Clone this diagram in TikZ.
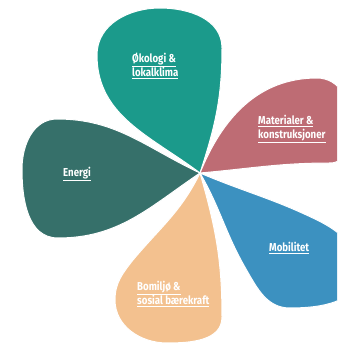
\documentclass[tikz,border=0pt]{standalone}
\usepackage{fontspec}
\setmainfont{Fira Sans}[FakeStretch=0.84]
\definecolor{energi}{HTML}{36706A}
\definecolor{oekologi}{HTML}{1B9A8B}
\definecolor{materialer}{HTML}{BE6C74}
\definecolor{mobilitet}{HTML}{3C91C0}
\definecolor{bomiljo}{HTML}{F3C18F}
\tikzset{
  petal/.style={fill=#1, draw=white, line width=1pt},
  lbl/.style={text=white, font=\bfseries\fontsize{11.5}{14}\selectfont, align=left, anchor=north west, inner sep=0pt},
}
\begin{document}
\begin{tikzpicture}[x=1pt, y=1pt]
    \useasboundingbox (0,0) rectangle (337,345);
    \clip (0,0) rectangle (337,345);
    \coordinate (c) at (200,172);
    % Energi
    \filldraw[petal=energi] (c) to[out=155,in=0] (57,226) to[out=180,in=90] (22,176)
        to[out=-90,in=180] (58,107) to[out=0,in=-146] (c);
    % Økologi
    \filldraw[petal=oekologi] (c) to[out=143,in=-90] (97,290) to[out=90,in=180] (160,337)
        to[out=0,in=90] (222,297) to[out=-90,in=72] (c);
    % Materialer
    \filldraw[petal=materialer] (c) to[out=68,in=180] (317,267) to[out=0,in=90] (352,220)
        to[out=-90,in=0] (330,182) to[out=180,in=5] (c);
    % Mobilitet
    \filldraw[petal=mobilitet] (c) to[out=-23,in=154] (317,125) to[out=-26,in=90] (358,72)
        to[out=-90,in=0] (290,37) to[out=180,in=-60] (246,76) to[out=120,in=-60] (c);
    % Bomiljø
    \filldraw[petal=bomiljo] (c) to[out=-116,in=50] (133,85) to[out=-128,in=90] (115,45)
        to[out=-90,in=180] (167,2) to[out=0,in=-90] (222,28) to[out=90,in=-74] (c);
    \node[lbl] (oekologi-t) at (132,292) {\underline{Økologi \&}\\\underline{lokalklima}};
    \node[lbl] (materialer-t) at (258,230) {\underline{Materialer \&}\\\underline{konstruksjoner}};
    \node[lbl] (energi-t) at (63,178) {\underline{Energi}};
    \node[lbl] (mobilitet-t) at (269,103) {\underline{Mobilitet}};
    \node[lbl] (bomiljo-t) at (137,64) {\underline{Bomiljø \&}\\\underline{sosial bærekraft}};
\end{tikzpicture}
\end{document}
